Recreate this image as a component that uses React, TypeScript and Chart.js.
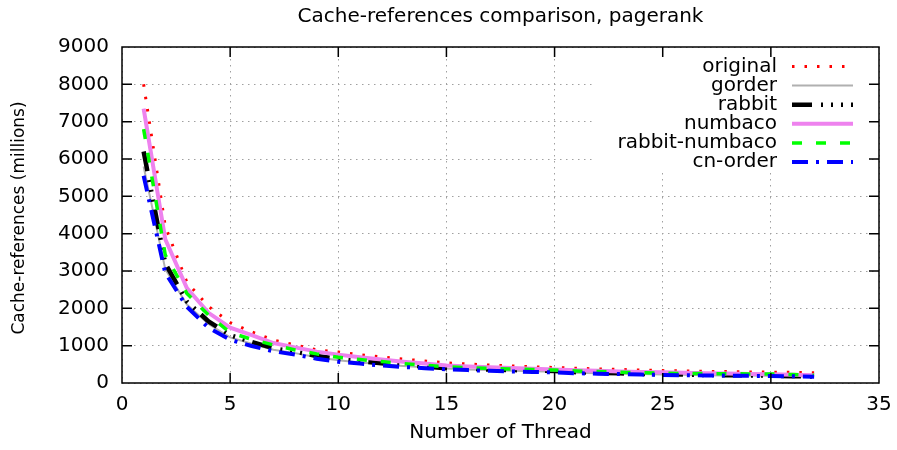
import React, { useEffect, useRef } from "react";
import { Chart, registerables } from "chart.js";

Chart.register(...registerables);

const threads = [1, 2, 3, 4, 5, 6, 7, 8, 9, 10, 11, 12, 13, 14, 15, 16, 17, 18, 19, 20, 21, 22, 23, 24, 25, 26, 27, 28, 29, 30, 31, 32];

const original = [8000, 4200, 2700, 2050, 1620, 1370, 1150, 1020, 890, 830, 760, 700, 640, 590, 540, 510, 480, 455, 435, 415, 395, 378, 362, 346, 332, 322, 313, 305, 298, 291, 284, 277];
const gorder = [5800, 3050, 2100, 1580, 1220, 1050, 890, 800, 690, 610, 550, 500, 455, 420, 385, 362, 345, 330, 315, 300, 277, 262, 250, 238, 226, 218, 210, 204, 198, 192, 183, 172];
const rabbit = [6200, 3200, 2180, 1650, 1280, 1100, 930, 840, 725, 640, 580, 530, 480, 440, 395, 378, 362, 348, 334, 320, 290, 272, 258, 245, 233, 224, 216, 209, 202, 196, 184, 170];
const numbaco = [7350, 3850, 2540, 1880, 1480, 1280, 1070, 955, 840, 760, 690, 630, 570, 520, 470, 445, 420, 400, 380, 362, 340, 325, 310, 297, 285, 273, 262, 252, 242, 233, 219, 205];
const rabbitNumbaco = [6800, 3430, 2400, 1820, 1350, 1170, 1020, 885, 780, 690, 630, 575, 520, 475, 435, 412, 392, 375, 360, 345, 322, 305, 290, 275, 262, 256, 251, 247, 244, 241, 225, 205];
const cnOrder = [5550, 2950, 2040, 1480, 1160, 990, 850, 760, 650, 570, 520, 470, 430, 395, 366, 345, 325, 310, 295, 282, 262, 250, 238, 225, 214, 208, 202, 197, 192, 188, 180, 170];

const seriesLabels = ["original", "gorder", "rabbit", "numbaco", "rabbit-numbaco", "cn-order"];
const xTickValues = [0, 5, 10, 15, 20, 25, 30, 35];
const yTickValues = [0, 1000, 2000, 3000, 4000, 5000, 6000, 7000, 8000, 9000];

const chartTitle = "Cache-references comparison, pagerank";
const xTitle = "Number of Thread";
const yTitle = "Cache-references (millions)";

const FONT = '"DejaVu Sans", "Liberation Sans", sans-serif';

const styles = [
  { color: "#ff0000", width: 3, dash: [2.5, 10] },
  { color: "#b0b0b0", width: 2, dash: [] as number[] },
  { color: "#000000", width: 4.5, dash: [20, 9, 2, 8, 2, 8, 2, 8] },
  { color: "#ee82ee", width: 4, dash: [] as number[] },
  { color: "#00ff00", width: 3.5, dash: [10, 14] },
  { color: "#0000ff", width: 4, dash: [16, 8, 3, 8] },
];

const overlay = {
  id: "gnuplotOverlay",
  afterDraw(chart: any) {
    const { ctx, chartArea: a, scales } = chart;
    ctx.save();
    // opaque key box
    ctx.fillStyle = "#ffffff";
    ctx.fillRect(596, 56, 274, 117);

    // border
    ctx.strokeStyle = "#000";
    ctx.lineWidth = 1.5;
    ctx.setLineDash([]);
    ctx.strokeRect(a.left, a.top, a.right - a.left, a.bottom - a.top);

    // inward ticks (mirrored)
    const tl = 10;
    ctx.beginPath();
    xTickValues.slice(1, -1).forEach((v) => {
      const px = scales.x.getPixelForValue(v);
      ctx.moveTo(px, a.bottom);
      ctx.lineTo(px, a.bottom - tl);
      ctx.moveTo(px, a.top);
      ctx.lineTo(px, a.top + tl);
    });
    yTickValues.slice(1, -1).forEach((v) => {
      const py = scales.y.getPixelForValue(v);
      ctx.moveTo(a.left, py);
      ctx.lineTo(a.left + tl, py);
      ctx.moveTo(a.right, py);
      ctx.lineTo(a.right - tl, py);
    });
    ctx.stroke();

    // key
    ctx.font = `20px ${FONT}`;
    ctx.textAlign = "right";
    ctx.textBaseline = "middle";
    seriesLabels.forEach((lab, i) => {
      const y = 66.5 + i * 19.1;
      ctx.fillStyle = "#000";
      ctx.fillText(lab, 777, y);
      const s = styles[i];
      ctx.strokeStyle = s.color;
      ctx.lineWidth = s.width;
      ctx.lineCap = "butt";
      ctx.setLineDash(s.dash);
      ctx.lineDashOffset = 0;
      ctx.beginPath();
      ctx.moveTo(792, y);
      ctx.lineTo(853, y);
      ctx.stroke();
    });
    ctx.setLineDash([]);

    // titles
    ctx.fillStyle = "#000";
    ctx.textAlign = "center";
    ctx.textBaseline = "middle";
    ctx.font = `20px ${FONT}`;
    ctx.fillText(chartTitle, (a.left + a.right) / 2, 17);
    ctx.fillText(xTitle, (a.left + a.right) / 2, 433);
    ctx.save();
    ctx.font = `17px ${FONT}`;
    ctx.translate(20, (a.top + a.bottom) / 2 + 3);
    ctx.rotate(-Math.PI / 2);
    ctx.fillText(yTitle, 0, 0);
    ctx.restore();
    ctx.restore();
  },
};

export default function App() {
  const ref = useRef<HTMLCanvasElement>(null);
  useEffect(() => {
    const canvas = ref.current!;
    const allData = [original, gorder, rabbit, numbaco, rabbitNumbaco, cnOrder];
    const chart = new Chart(canvas, {
      type: "line",
      data: {
        datasets: allData.map((d, i) => ({
          label: seriesLabels[i],
          data: threads.map((t, j) => ({ x: t, y: d[j] })),
          borderColor: styles[i].color,
          borderWidth: styles[i].width,
          borderDash: styles[i].dash,
          borderCapStyle: "butt" as const,
          borderJoinStyle: "miter" as const,
          pointRadius: 0,
          fill: false,
          tension: 0,
          order: allData.length - i,
        })),
      },
      options: {
        responsive: false,
        animation: false,
        devicePixelRatio: 1,
        layout: { padding: { left: 0, right: 18, top: 47, bottom: 0 } },
        plugins: {
          legend: { display: false },
          title: { display: false },
          tooltip: { enabled: false },
        },
        scales: {
          x: {
            type: "linear",
            min: 0,
            max: 35,
            afterBuildTicks: (s: any) => {
              s.ticks = xTickValues.map((v) => ({ value: v }));
            },
            ticks: {
              font: { family: FONT, size: 20 },
              color: "#000",
              padding: 10,
              maxRotation: 0,
              autoSkip: false,
              callback: (v: any) => String(v),
            },
            grid: { color: "#a0a0a0", lineWidth: 1, drawTicks: false },
            border: { display: false, dash: [1.5, 4.5] },
            afterFit: (s: any) => {
              s.height = 67;
              s.paddingLeft = 0;
              s.paddingRight = 0;
            },
          },
          y: {
            type: "linear",
            min: 0,
            max: 9000,
            afterBuildTicks: (s: any) => {
              s.ticks = yTickValues.map((v) => ({ value: v }));
            },
            ticks: {
              font: { family: FONT, size: 20 },
              color: "#000",
              padding: 13,
              autoSkip: false,
              callback: (v: any) => String(v),
            },
            grid: { color: "#a0a0a0", lineWidth: 1, drawTicks: false },
            border: { display: false, dash: [1.5, 4.5] },
            afterFit: (s: any) => {
              s.width = 122;
              s.paddingTop = 0;
              s.paddingBottom = 0;
            },
          },
        },
      },
      plugins: [overlay],
    } as any);
    return () => chart.destroy();
  }, []);
  return (
    <div style={{ position: "fixed", left: 0, top: 0, width: 897, height: 450, background: "#fff" }}>
      <canvas ref={ref} width={897} height={450} style={{ display: "block" }} />
    </div>
  );
}
